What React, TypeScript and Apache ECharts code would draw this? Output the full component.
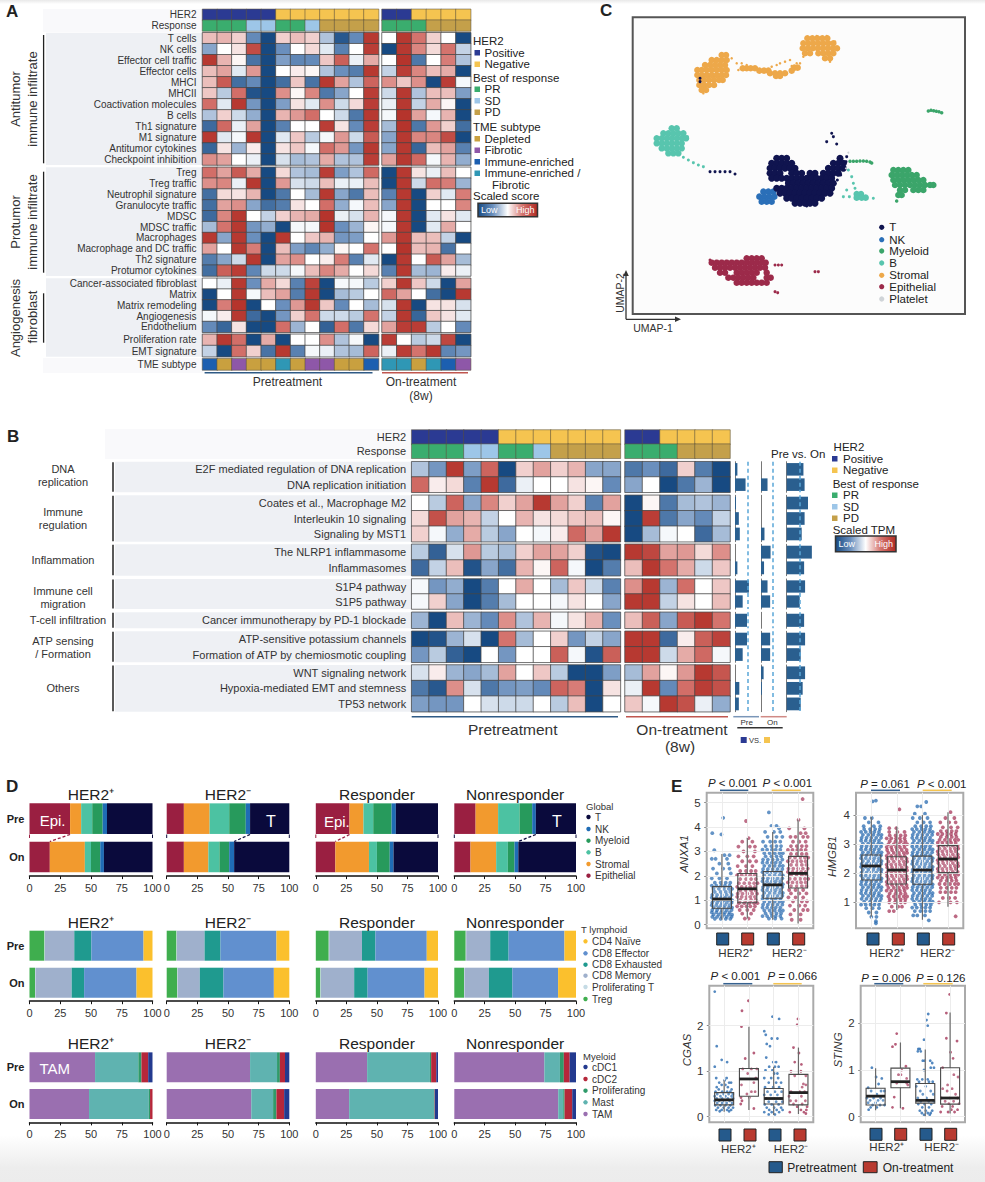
import React, { useEffect, useRef } from "react";
import * as echarts from "echarts";

const FONT = "Liberation Sans, Arial, sans-serif";
const NAVY = "#2b3a93", GOLD = "#f5c450", PRC = "#3aad6e", SDC = "#9dc6e8", PDC = "#c4a04a";
const DEP = "#c9a03f", FIB = "#8e57a8", IMM = "#1c5fb0", MIX = "#2f97b5";

// ---------- Panel A ----------
const annotRows = ["HER2", "Response"];
const annotA = [
  [0, 0, 0, 0, 0, 1, 1, 1, 1, 1, 1, 1, 0, 0, 1, 1, 1, 1],
  [2, 2, 2, 3, 3, 2, 2, 3, 4, 4, 4, 4, 2, 2, 2, 4, 4, 4],
];
const antitumorRows = ["T cells", "NK cells", "Effector cell traffic", "Effector cells", "MHCI", "MHCII", "Coactivation molecules", "B cells", "Th1 signature", "M1 signature", "Antitumor cytokines", "Checkpoint inhibition"];
const antitumorScores = [
  [0.7, 0.8, 0.5, -1.6, -3, 0.5, 0.7, 0.5, -0.8, -2.7, -1.6, 2.7, 0, 2.7, 1.5, 0.5, 0, -3],
  [-1.2, 0, 0.3, 2.3, -3, -1.5, 0, 0.4, -0.3, -1.8, 0, 2.6, -3, 2.7, 1.3, 0.4, 1.5, -0.6],
  [2.7, 0.8, 0.1, -2.1, -3, -1.3, -1.7, -1.6, 0.6, 1.9, -0.2, 0.9, 0, 2.8, -2, 0, 1.4, -0.8],
  [0.7, 1, -0.3, 1.1, -3, 0, 0.2, 0.1, -0.8, -1.5, -1.9, 2.7, -0.6, 2.6, 1.3, 0.7, 0.9, -3],
  [0.7, 2, -2.2, -1.6, -3, -2.2, 0.6, -2.1, 2.7, 1, -0.8, 1.8, 1.2, 0.6, 1.2, -3, 2.6, -0.1],
  [0.6, -0.7, 1.6, -2.8, -3, 1.2, 0.1, 1.3, -2, -1.2, 0, 2.6, -0.5, 2.7, -0.8, 0.7, 0.7, -1.3],
  [1.6, -0.3, 2.7, -1.4, -3, -1.3, 0.3, -0.3, 1.2, -0.5, 0.4, 2.6, -0.2, 2.7, -0.6, 0.9, 0.1, -3],
  [-0.8, 0.5, -0.5, -1.1, -3, 0.8, 1.1, 1.6, 0, -0.5, -2, 2.7, -0.1, 2.8, 1, -0.1, 0.8, -3],
  [-2.3, 1.7, -0.2, 1, -3, -1.8, 0, 0, 2.6, 0.3, -1.6, 2.6, -0.9, 2.8, -2, 1.1, 0.5, -2.2],
  [2.7, -0.3, -0.1, 2.7, -3, -0.3, 0.6, -0.7, -0.1, 1.1, -0.5, 2, -1.2, 2.7, 1.3, 1.3, 2.3, -3],
  [-2.4, 0.3, -1, 0.2, -3, 0.3, 0.6, -0.1, 1.6, 1.1, -1.4, 2.7, -1.2, 2.7, -2.4, 0.7, 1, -1.8],
  [1.2, 1, 0, -0.2, -3, -0.4, -0.9, -0.8, 0.9, -0.8, -0.8, 2.6, 1, 2.7, 1.7, -0.1, 0.8, -1.1],
];
const protumorRows = ["Treg", "Treg traffic", "Neutrophil signature", "Granulocyte traffic", "MDSC", "MDSC traffic", "Macrophages", "Macrophage and DC traffic", "Th2 signature", "Protumor cytokines"];
const protumorScores = [
  [1.6, 1, 2, 0.9, -3, 0.4, -0.8, -0.9, 2.6, -1.3, -0.8, 1.7, -3, 2.7, 0.3, -0.2, 0.7, 0],
  [1.2, 1.3, -0.2, 2.7, -3, 1.1, -0.4, -0.5, 0.7, -0.2, -0.2, 0.7, -3, 2.7, -0.5, 1.6, 1.4, -1],
  [-2.2, 0.4, 0.3, 0.8, -3, -2, 0, -0.9, 2.7, -1.2, -2, 0.7, -1.8, 2.7, -3, 0.5, -0.3, 1.4],
  [-2.2, 1, 1.2, -1.2, -2.2, -1.9, 0.3, 0, 1.6, -1.1, -0.1, 0.7, -1.2, 2.7, -3, 0, 0, 1.3],
  [-2.3, 1.3, 2.7, 0, -0.6, 0.5, 0.8, 0.9, 2.8, -0.2, -0.4, 0.8, -0.1, 2.7, -3, -0.3, 0.3, -0.3],
  [-0.9, 1.5, 2.7, -1.4, -1.1, -3, -0.1, -0.1, 2.8, -1.5, -1, 0.1, -0.1, 2.7, -3, -0.3, 0.9, 0],
  [2.7, -1.2, 2.7, -1.5, -3, 2.7, 0, 0.6, 0.8, -1.4, -1.3, 0, 1.1, 2.7, 0.7, 0.7, -0.6, -3],
  [1, 0, 2.7, 1.4, -3, 0.7, -1.3, -1.7, -1.1, 0.1, 0, 1.5, 0, 2.8, 0.7, 0.8, -2.1, 0],
  [-1.9, -1.2, -0.5, 2.7, -3, 1, 1.2, 0, 0.2, 1.4, -1.8, -0.3, -3, 2.7, 0, 2, 1, -0.9],
  [-2.2, 1.9, 2.6, -1.7, -0.5, -0.5, -0.1, 0.7, 1.3, 0.9, 0, 0.4, -1.8, 2.7, -0.9, -1, 0.2, -0.2],
];
const angioRows = ["Cancer-associated fibroblast", "Matrix", "Matrix remodeling", "Angiogenesis", "Endothelium"];
const angioScores = [
  [0, -0.2, 2.7, -1.5, 0.9, 0.4, -1.8, 2.5, -3, -0.1, -0.1, -0.7, 0.5, 2.7, 0.6, -0.5, -3, 1],
  [-3, 0, 2.7, -0.1, 0.7, 1, -1.9, 2.7, -3, -0.9, -0.7, 0, 1.7, 1, 0, -2.2, -3, 2.7],
  [-3, 1.4, 2.8, -3, 0, -1.5, 1.1, 2.7, 0.6, -1.6, 0, -0.9, -0.4, 2.7, -3, 0.3, 0.3, -0.4],
  [-0.1, 0.2, 2.7, -2.3, -3, -1.4, 0.5, 1.5, -0.5, -0.5, -0.7, 1.5, -0.6, 2.7, -2.4, 0.6, 0.3, -0.3],
  [-1.6, -2.4, 0.3, -3, -3, 1.6, -1, 0, -2.5, 1.6, -2, 0.4, 1, 2.6, 2.6, -0.7, 0, -1.6],
];
const prolifRows = ["Proliferation rate", "EMT signature"];
const prolifScores = [
  [0.8, 2.7, 1.6, -3, 0.9, -3, 0, 0, 1.2, -0.8, -0.1, -3, 2.6, 0, -0.7, -0.5, 2.4, -3],
  [-0.6, -3, 1.6, 0.5, -2.1, 2.7, -1.8, -0.1, -0.2, -0.8, -0.9, 1.8, -0.2, 2.6, 1.5, 2.7, -1.7, -1.4],
];
const tmeRow = ["TME subtype"];
const tmeValues = [[7, 5, 6, 5, 5, 8, 5, 6, 6, 5, 5, 7, 8, 8, 5, 8, 7, 6]];

// ---------- Panel B ----------
const annotB = annotA;
const bDna = ["E2F mediated regulation of DNA replication", "DNA replication initiation"];
const bDnaScores = [
  [-0.8, -1.4, 2.7, -1.3, 1.8, -3, 0.5, 1, 0.5, 0.8, -1.2, -1.2, -2, -1.5, -2.3, 0.5, -1.9, -3],
  [1.7, 0.2, 0.4, -1.8, 2.7, -2.3, -0.2, 0, 0, 0.3, 0.1, -1.6, -1.2, 0, -3, -2, -1, -3],
];
const bImmune = ["Coates et al., Macrophage M2", "Interleukin 10 signaling", "Signaling by MST1"];
const bImmuneScores = [
  [0, -0.7, 1.8, -1.2, 1.3, 0.5, 1, 2.7, 1, 0.5, -1.8, 1, -3, 0.1, -2, -0.9, -0.8, -1],
  [0.4, 2.2, 1, 0.8, -0.6, 0, 0.8, 0.3, 0.4, 0.6, 0.7, 0.1, -3, 2.6, -2, -1.2, -1.6, -0.6],
  [0.5, -0.1, -1.1, 0.9, -0.7, -1.2, 0, -0.1, 0.2, 1.7, 1, 2.7, -3, -0.9, -0.1, 0, -2.3, -0.9],
];
const bInflam = ["The NLRP1 inflammasome", "Inflammasomes"];
const bInflamScores = [
  [-0.7, -2.5, -0.4, 1.1, -0.7, -0.9, 0.5, 1, 1, 0.5, -2.8, -3, 2.7, 2.4, 1, 1.1, 0.4, 1.2],
  [-2.3, -0.6, 0.7, -2.8, -1.2, -2.2, 0.8, 0.1, 1.8, -0.1, -3, -1.9, 0.7, 2.7, 1.5, 0.9, -0.5, 0.6],
];
const bMigr = ["S1P4 pathway", "S1P5 pathway"];
const bMigrScores = [
  [-0.1, -1.4, -1.1, -3, -1.9, 0, 0.9, 0, -0.9, 0.6, -0.5, -1.8, 1.2, 2.7, -1, 1.6, 0, 0.6],
  [-0.1, 0.5, -1.2, -3, -1.9, -0.9, 0, 0, -0.1, 0.3, 0, -1.2, 2.7, 2.7, -0.6, 0.3, 0, 0.7],
];
const bTcell = ["Cancer immunotherapy by PD-1 blockade"];
const bTcellScores = [[-1, -3, 0.7, -1, -1.6, 1.2, -0.8, 0.8, -0.1, 0.3, 0.8, -1.5, 0.7, 1.9, -1.2, 2, 2.7, 1.5]];
const bAtp = ["ATP-sensitive potassium channels", "Formation of ATP by chemiosmotic coupling"];
const bAtpScores = [
  [-3, -2.8, -1, -0.4, -3, 1.5, -0.9, 0, 0.5, -1.4, -0.6, -1.2, 2.7, 2.7, -2.3, 0.2, 1.9, 2.5],
  [-1.4, -0.7, -2.5, -3, 0, -1.4, 0, 0, 1.9, -0.1, -2.8, 1.9, 2.7, 2.7, -0.5, 0.9, 1.7, -0.1],
];
const bOthers = ["WNT signaling network", "Hypoxia-mediated EMT and stemness", "TP53 network"];
const bOthersScores = [
  [-0.4, 0.2, -1, -1.2, -0.9, 1, 0, 0.6, -0.7, -3, -3, -1.3, -0.9, 1, 0.1, 1.1, 2.7, 2.1],
  [-2, -2.7, 1.2, -0.4, -2, -1.4, -1.3, -1.6, 1.8, 1.4, -3, 0.3, -0.2, 2.7, -1.6, 1.6, 2.6, 2.2],
  [-1.3, -1.4, -1.4, 0, -0.4, -0.5, -0.5, 0, -0.7, 0.7, -3, 0, 0.6, -0.1, 2.7, 2.2, -0.2, -1.1],
];
const barsPre = [0.25, 1.1, 0.1, 0.4, 0.5, 0, 0.25, 1.45, 0.8, 1.25, 1.25, 0.8, 0, 0.45, 0.4];
const barsOn = [0, 0.75, 0, 0, 0.4, 1.1, 0.35, 0.75, 1.05, 0, 1.05, 1.05, 0.3, 0.1, 0];
const barsPreOn = [1.73, 1.85, 2.2, 1.85, 1.55, 2.6, 1.8, 1.9, 1.35, 1.8, 1.9, 1.45, 1.9, 1.65, 1.45];
const cutoff = 1.3;

// ---------- Panel C: rows are [y, x, x, ...], in units of the frame ----------
const stromalCore = [[165, 365, 378], [180, 335, 350, 365, 380], [195, 315, 330, 345, 360, 375], [210, 292, 305, 320, 335, 350, 365, 380], [225, 292, 305, 320, 335, 350, 365, 378], [240, 298, 312, 327, 342, 357, 368], [255, 298, 312, 327, 342], [270, 305, 318], [115, 622, 637, 652, 667, 682], [130, 610, 625, 640, 655, 670, 685, 700], [145, 608, 623, 638, 653, 668, 683, 698, 711], [160, 615, 630, 655, 670, 685, 700], [175, 675, 690], [205, 428, 440, 452, 465], [212, 478, 492, 505, 575], [220, 510, 525, 540, 555], [228, 528, 540], [203, 583, 593]];
const stromalFringe = [[175, 395], [190, 410, 425], [195, 440], [210, 430, 415], [208, 470], [190, 540], [185, 555], [180, 570], [200, 515], [195, 530], [198, 575], [190, 590, 600], [170, 610], [280, 310], [108, 650, 680], [125, 705], [150, 712], [185, 690]];
const tCore = [[475, 530, 545, 560, 720], [490, 515, 530, 545, 560, 575, 700, 715, 730], [505, 510, 525, 540, 555, 570, 585, 685, 700, 715, 730], [520, 510, 525, 540, 575, 590, 605, 630, 645, 670, 685, 700, 715], [535, 515, 530, 545, 560, 575, 590, 605, 620, 635, 650, 665, 680, 695], [550, 565, 580, 595, 610, 625, 640, 655, 670, 685, 700], [565, 530, 545, 560, 575, 590, 605, 620, 635, 650, 665, 680, 695], [580, 540, 555, 570, 585, 600, 615, 630, 645, 660, 675, 690], [595, 560, 575, 590, 605, 620, 635, 650, 665], [610, 585, 600, 615, 630, 645]];
const tFringe = [[515, 330, 345, 360, 375, 390], [522, 405], [400, 695], [410, 700], [425, 680], [432, 710], [470, 740], [485, 738], [618, 620], [540, 712], [525, 722], [235, 300], [245, 300]];
const nkCore = [[575, 490, 505, 520], [590, 478, 493, 508, 523], [605, 485, 500, 515]];
const myeloidCore = [[510, 880, 895, 910, 925], [525, 875, 890, 905, 920, 935, 950], [540, 880, 895, 910, 925, 940, 955, 970], [555, 885, 900, 915, 930, 945, 960, 975, 990, 1000], [570, 900, 915, 940, 955, 970], [585, 895, 905]];
const myeloidFringe = [[603, 890], [484, 750, 760, 770], [483, 780, 790], [484, 800], [486, 810], [489, 815], [333, 985], [331, 993], [332, 1001], [334, 1009], [335, 1017], [338, 1025]];
const bCore = [[385, 215, 230], [400, 190, 205, 220, 235, 250], [415, 170, 185, 200, 215, 230, 245, 258], [430, 170, 185, 200, 215, 230, 245], [445, 185, 200, 215, 230, 245], [460, 205, 220, 235], [582, 770, 783], [593, 770, 785, 797]];
const bFringe = [[472, 250], [480, 265], [488, 280], [495, 295], [500, 310], [510, 745], [530, 755], [550, 760], [570, 740], [590, 730, 748], [595, 820], [565, 765], [410, 262]];
const epiCore = [[775, 440, 455, 470, 485], [788, 335, 350, 365, 380, 395, 410, 425, 440, 455, 470, 485, 497], [803, 345, 360, 375, 390, 405, 420, 435, 450, 465, 480, 495], [818, 360, 375, 410, 425, 440, 455, 470, 500], [833, 385, 400, 415, 430, 445, 460, 500, 512], [848, 410, 425, 440, 455, 470, 485, 500]];
const epiFringe = [[795, 525, 535, 545], [815, 655, 645], [878, 533], [875, 525], [780, 330]];
const plateletPoints = [[458, 745], [505, 738]];

// ---------- Panel D ----------
const columnTitles = ["HER2⁺", "HER2⁻", "Responder", "Nonresponder"];
const globalNames = ["Epithelial", "Stromal", "B", "Myeloid", "NK", "T"];
const globalColors = ["#9a1f41", "#f29a2e", "#4cc2a2", "#279a5c", "#1f6cb5", "#0a0a3c"];
const globalShares = [
  [[33, 9, 9, 8.5, 3.5, 37], [16.5, 28.5, 5, 7.5, 3, 39.5]],
  [[14, 21, 16, 13.5, 3.5, 32], [14, 20, 9, 8, 4, 45]],
  [[27.6, 11.4, 8, 15, 3.5, 34.5], [16, 27.5, 6.5, 10.5, 3.1, 36.4]],
  [[17.5, 18.5, 17.6, 10.4, 3, 33], [13.3, 21.1, 9.6, 5.5, 3.1, 47.4]],
];
const tNames = ["Treg", "Proliferating T", "CD8 Memory", "CD8 Exhausted", "CD8 Effector", "CD4 Naïve"];
const tColors = ["#3fae4e", "#c5dbe5", "#9fb0cc", "#1f9a8f", "#6190cf", "#fbc02d"];
const tShares = [
  [[12.2, 0.4, 23.8, 13.9, 42.4, 7.3], [4.5, 0.4, 29.4, 10.1, 42.6, 13]],
  [[8, 0.4, 22.5, 13, 45.6, 10.5], [8.6, 0.4, 18, 19.3, 41.1, 12.6]],
  [[10.6, 0.4, 26.8, 11, 42, 9.2], [3.8, 0.4, 27.2, 11, 46.6, 11]],
  [[9.4, 0.4, 19.7, 15.1, 45.9, 9.5], [8, 0.4, 20, 19.3, 37.6, 14.7]],
];
const myeloidNames = ["TAM", "Mast", "Proliferating", "cDC2", "cDC1"];
const myeloidColors = ["#9a6fb0", "#5fb3b0", "#2f9a6a", "#b5273a", "#233a8f"];
const myeloidShares = [
  [[53.3, 35.2, 2.5, 5.5, 3.5], [48.4, 48.6, 1, 2, 0]],
  [[68, 22, 2.3, 4.2, 3.5], [69, 17.8, 2.7, 6.3, 4.2]],
  [[42, 51.4, 1, 4.2, 1.4], [27.3, 69.6, 0.3, 0.3, 2.5]],
  [[74, 12.8, 3.2, 4.8, 5.2], [85.4, 4.1, 1.1, 6.3, 3.1]],
];

// ---------- Panel E: [low, Q1, median, Q3, high] per group; jitter rows are [y, ...x offsets] ----------
const anxa1Boxes = [[0.2, 0.67, 1.05, 1.56, 2.9], [0.25, 0.9, 1.47, 2.1, 3.55], [0.2, 1.08, 1.63, 2.18, 3.8], [0.05, 1.5, 2.1, 2.8, 4.3]];
const hmgb1Boxes = [[0.5, 1.77, 2.25, 2.63, 3.94], [0.74, 1.63, 2.11, 2.57, 3.6], [0.4, 1.62, 2.11, 2.59, 4], [0.85, 2.02, 2.49, 2.95, 4.1]];
const cgasBoxes = [[0.11, 0.26, 0.37, 0.53, 0.8], [0.15, 0.45, 0.83, 1.06, 1.98], [0.04, 0.28, 0.4, 0.62, 1.1], [0.06, 0.26, 0.53, 0.93, 1.52]];
const stingBoxes = [[0.14, 0.25, 0.44, 0.61, 1.04], [0.18, 0.62, 0.75, 1.04, 1.59], [0.01, 0.29, 0.35, 0.71, 1.44], [0.07, 0.27, 0.4, 1.05, 2.23]];

const wa = [-0.38, -0.19, 0, 0.19, 0.38];
const wb = [-0.33, -0.12, 0.08, 0.27, 0.4];
const wc = [-0.28, -0.05, 0.15, 0.33];
const wd = [-0.4, -0.22, -0.03, 0.12, 0.3];
const anxa1Jitter = [
  [[4.38, 0.05], [3.75, -0.38], [3.7, -0.02], [3.05, -0.3], [2.85, 0.1, 0.3], [2.7, -0.4, -0.25, 0.2], [2.5, -0.1, 0.25], [2.3, -0.35, 0.05, 0.3], [2.1, -0.2, 0.35], [1.9, -0.4, -0.1, 0.2], [1.72, ...wc], [1.6, ...wd], [1.47, ...wb], [1.34, ...wc], [1.22, ...wa], [1.11, ...wd], [1.0, ...wb], [0.9, ...wa], [0.8, ...wd], [0.7, ...wb], [0.6, ...wa], [0.5, ...wd], [0.41, ...wb], [0.32, ...wa], [0.24, ...wc]],
  [[4.25, -0.05], [3.55, 0.05], [3.4, -0.2, 0.2], [3.2, -0.35, 0.1, 0.3], [3, -0.15, 0.3], [2.8, -0.35, 0, 0.25], [2.6, -0.2, 0.1, 0.35], [2.4, -0.38, -0.05, 0.2], [2.2, ...wc], [2.03, ...wd], [1.87, ...wc], [1.7, ...wb], [1.55, ...wd], [1.4, ...wc], [1.27, ...wa], [1.14, ...wd], [1.01, ...wc], [0.88, ...wb], [0.75, ...wd], [0.6, -0.3, 0, 0.25], [0.45, -0.2, 0.15], [0.25, 0.05, -0.1]],
  [[4.6, -0.15], [4.05, -0.05, 0.15], [3.95, 0.25], [3.8, -0.3, 0.05, 0.3], [3.6, -0.2, 0.15, 0.38], [3.4, -0.38, -0.1, 0.1, 0.3], [3.22, ...wc], [3.07, ...wd], [2.93, ...wb], [2.8, ...wc], [2.67, ...wa], [2.54, ...wd], [2.41, ...wb], [2.28, ...wa], [2.15, ...wd], [2.02, ...wb], [1.9, ...wa], [1.78, ...wd], [1.66, ...wb], [1.54, ...wa], [1.42, ...wd], [1.3, ...wb], [1.18, ...wa], [1.06, ...wd], [0.94, ...wb], [0.82, ...wa], [0.7, ...wd], [0.58, ...wb], [0.46, ...wc], [0.35, ...wd], [0.25, -0.15, 0.1, 0.35]],
  [[5.15, 0.18], [4.3, 0.02], [3.95, -0.35, 0.25], [3.75, 0.1, 0.3], [3.6, -0.3, -0.1, 0.2, 0.38], [3.4, -0.2, 0.05, 0.3], [3.22, ...wc], [3.06, ...wd], [2.9, ...wc], [2.75, ...wb], [2.6, ...wd], [2.45, ...wc], [2.3, ...wa], [2.16, ...wd], [2.02, ...wc], [1.88, ...wb], [1.73, ...wd], [1.58, ...wc], [1.42, -0.35, -0.1, 0.2], [1.28, -0.28, 0.05, 0.33], [1.12, -0.38, -0.1, 0.2], [0.95, -0.2, 0.15, 0.35], [0.78, -0.32, 0.05, 0.28], [0.6, -0.15, 0.2, 0.38], [0.42, -0.3, 0.1], [0.2, -0.25, 0.1]],
];
const hmgb1Jitter = [
  [[4.5, 0.18], [4.47, 0.05], [3.9, -0.25, 0.02], [3.75, -0.1, 0.28], [3.62, -0.3, 0.1, 0.35], [3.52, ...wc], [3.42, ...wd], [3.32, ...wb], [3.22, ...wa], [3.12, ...wd], [3.02, ...wb], [2.92, ...wa], [2.82, ...wd], [2.72, ...wb], [2.62, ...wa], [2.52, ...wd], [2.42, ...wb], [2.32, ...wa], [2.22, ...wd], [2.12, ...wb], [2.02, ...wa], [1.92, ...wd], [1.82, ...wb], [1.72, ...wa], [1.62, ...wd], [1.52, ...wb], [1.42, ...wa], [1.32, ...wd], [1.22, ...wb], [1.12, ...wa], [1.02, ...wc], [0.92, ...wd], [0.8, -0.2, 0.05, 0.3], [0.65, -0.1, 0.2], [0.5, 0, 0.2], [0.35, 0.18], [0.28, 0.18]],
  [[4.2, 0.1], [3.55, -0.02, -0.3], [3.42, -0.3, 0.02, 0.3], [3.3, ...wc], [3.2, ...wd], [3.1, ...wc], [3, ...wb], [2.9, ...wd], [2.8, ...wa], [2.7, ...wb], [2.6, ...wd], [2.5, ...wa], [2.4, ...wb], [2.3, ...wd], [2.2, ...wa], [2.1, ...wb], [2, ...wd], [1.9, ...wa], [1.8, ...wb], [1.7, ...wd], [1.6, ...wa], [1.5, ...wb], [1.4, ...wd], [1.3, ...wc], [1.2, ...wb], [1.1, ...wc], [1, -0.3, -0.08, 0.15, 0.32], [0.85, -0.2, 0.05, 0.2], [0.7, -0.3, -0.12]],
  [[4.45, 0.15], [4.3, -0.2, -0.05], [4.05, 0.1, -0.3], [3.9, -0.38, -0.1, 0.2], [3.75, -0.2, 0.05, 0.3], [3.62, ...wc], [3.52, ...wd], [3.42, ...wb], [3.32, ...wa], [3.22, ...wd], [3.12, ...wb], [3.02, ...wa], [2.92, ...wd], [2.82, ...wb], [2.72, ...wa], [2.62, ...wd], [2.52, ...wb], [2.42, ...wa], [2.32, ...wd], [2.22, ...wb], [2.12, ...wa], [2.02, ...wd], [1.92, ...wb], [1.82, ...wa], [1.72, ...wd], [1.62, ...wb], [1.52, ...wa], [1.42, ...wd], [1.32, ...wb], [1.22, ...wa], [1.12, ...wd], [1.02, ...wb], [0.92, ...wc], [0.82, ...wd], [0.7, -0.3, -0.08, 0.12, 0.3], [0.55, -0.36, -0.2, 0.1], [0.38, 0.25]],
  [[4.1, 0.1], [3.9, -0.1, 0.25], [3.75, -0.3, 0.05, 0.3], [3.58, -0.2, 0.12, 0.38], [3.45, ...wc], [3.35, ...wd], [3.25, ...wc], [3.15, ...wb], [3.05, ...wd], [2.95, ...wa], [2.85, ...wb], [2.75, ...wd], [2.65, ...wa], [2.55, ...wb], [2.45, ...wd], [2.35, ...wa], [2.25, ...wb], [2.15, ...wd], [2.05, ...wa], [1.95, ...wb], [1.85, ...wd], [1.75, ...wc], [1.63, ...wb], [1.5, ...wc], [1.35, -0.3, -0.1, 0.12, 0.3], [1.15, -0.2, 0.05, 0.28], [1, -0.35, 0.1, 0.35], [0.52, 0.3]],
];
const cgasJitter = [
  [[2.75, -0.38], [1.55, -0.3], [1.25, -0.1], [1.2, 0.12], [1.1, -0.38], [0.85, -0.32, 0.1], [0.8, 0.02], [0.75, -0.2, 0.2, 0.28], [0.7, -0.1, 0.05], [0.65, -0.3, 0.15], [0.6, -0.22, 0.3], [0.55, -0.35, -0.08, 0.12, 0.25], [0.5, -0.28, -0.02, 0.18, 0.35], [0.45, -0.38, -0.15, 0.05, 0.3], [0.4, -0.3, -0.08, 0.15, 0.36], [0.35, -0.38, -0.2, 0, 0.22], [0.3, -0.28, -0.08, 0.1, 0.32], [0.25, -0.36, -0.15, 0.05, 0.25], [0.2, -0.25, -0.02, 0.18, 0.36], [0.15, -0.32, -0.1, 0.12, 0.28], [0.12, -0.18, 0.2]],
  [[2.55, -0.02], [2.33, -0.28], [1.98, -0.3], [1.4, 0.2], [1.28, -0.15], [1.05, -0.25, 0.1, 0.32], [0.95, -0.05], [0.85, 0.28], [0.75, 0.2], [0.7, -0.3], [0.55, 0.1, 0.25], [0.5, -0.08], [0.42, -0.32, 0.02], [0.35, -0.28], [0.28, -0.33], [0.18, 0.2]],
  [[2.2, -0.05], [2.15, 0.22], [1.88, -0.38], [1.8, -0.32], [1.72, -0.08, 0.15], [1.6, -0.28], [1.55, -0.15], [1.3, -0.3], [1.2, -0.02, 0.1], [1.1, -0.18, 0.05, 0.2], [1.02, -0.33, -0.05], [0.95, 0.02, 0.15], [0.85, -0.38, -0.1, 0.18], [0.75, -0.2, 0.1, 0.3], [0.65, -0.35, -0.02, 0.22], [0.55, -0.25, 0.05, 0.32], [0.48, -0.38, -0.12, 0.15], [0.4, -0.3, 0, 0.28], [0.33, -0.2, 0.1, 0.35], [0.27, -0.36, -0.08, 0.2], [0.2, -0.28, 0.02, 0.3], [0.15, -0.18, 0.12, 0.36], [0.1, -0.38, -0.08, 0.22], [0.05, -0.2, 0.05]],
  [[2.15, -0.02], [2.02, -0.05], [1.52, -0.2], [1.4, 0.02], [1.2, -0.15], [1.15, 0.12], [1, -0.3, 0.1], [0.9, -0.15, 0.3], [0.72, 0.2], [0.7, 0.3], [0.65, 0.15], [0.55, -0.3, 0.05, 0.25], [0.45, -0.38, 0.12], [0.35, -0.32, -0.1, 0.28], [0.28, -0.2, 0.15], [0.22, -0.05, 0.35], [0.15, 0.1, 0.32], [0.1, -0.35, 0.22], [0.07, 0.3]],
];
const stingJitter = [
  [[1.05, -0.15], [0.85, 0.02], [0.82, 0.25], [0.7, 0.12], [0.62, -0.3], [0.55, -0.18, 0.22, 0.35], [0.48, 0.05], [0.4, -0.35, -0.08, 0.2], [0.35, -0.22, 0.1, 0.3], [0.3, -0.3, 0], [0.25, -0.12, 0.18, 0.36], [0.2, -0.2, 0.05], [0.15, -0.28]],
  [[1.78, -0.15], [1.55, -0.2], [1.5, -0.32], [1.08, 0.22], [1, 0.05], [0.9, -0.08, 0.02], [0.82, 0.25], [0.72, -0.15, 0.25], [0.68, 0.3], [0.42, -0.25], [0.2, -0.32], [0.18, 0.1]],
  [[2.2, 0.12], [2.07, 0.05], [1.95, 0.1], [1.65, -0.05], [1.45, -0.22, -0.28], [1.4, -0.3, -0.18], [1.2, -0.1, -0.02, 0.2], [1.15, 0.28], [1.05, 0.35, 0.22], [1, -0.05], [0.8, -0.32, -0.12, 0.1], [0.75, -0.25, 0.15, 0.3], [0.65, -0.36, 0.02], [0.55, -0.2, 0.22], [0.48, -0.1, 0.32], [0.4, -0.3, 0.05], [0.33, -0.18, 0.14, 0.34], [0.27, -0.28, -0.03, 0.24], [0.2, -0.12, 0.15], [0.13, -0.22, 0.02, 0.28], [0.08, -0.14, 0.1, 0.22], [0.04, -0.05, 0.18]],
  [[2.62, -0.02], [2.22, -0.15], [1.68, -0.15], [1.62, 0.28], [1.38, 0.02], [1.25, 0.12], [1.05, -0.3], [0.9, 0.15], [0.85, 0.32], [0.68, -0.1], [0.6, -0.3, 0.08], [0.55, -0.12], [0.48, 0.22], [0.4, -0.35, 0, 0.3], [0.33, -0.2, 0.14], [0.28, 0.36, -0.05], [0.22, -0.32, 0.1], [0.15, 0.05, 0.3], [0.1, -0.38, -0.08, 0.18]],
];

// ---------- builders ----------
function buildOption() {
  const grids: any[] = [], xAxes: any[] = [], yAxes: any[] = [], series: any[] = [], G: any[] = [];
  const scoreIdx: number[] = [], annotIdx: number[] = [];

  const T = (x: number, y: number, text: string, o: any = {}) =>
    G.push({
      type: "text", x, y, rotation: o.rot || 0, z: o.z ?? 50, silent: true,
      style: {
        text, fill: o.color || "#333", fontSize: o.size || 11, fontFamily: FONT,
        fontWeight: o.weight || "normal", fontStyle: o.italic ? "italic" : "normal",
        textAlign: o.align || "left", align: o.align || "left",
        textVerticalAlign: "middle", verticalAlign: "middle", rich: o.rich,
      },
    });
  const R = (x: number, y: number, w: number, h: number, fill: any, o: any = {}) =>
    G.push({ type: "rect", shape: { x, y, width: w, height: h }, z: o.z ?? 0, silent: true, style: { fill, stroke: o.stroke, lineWidth: o.lw } });
  const L = (x1: number, y1: number, x2: number, y2: number, stroke: string, lw = 1, dash?: number[]) =>
    G.push({ type: "line", shape: { x1, y1, x2, y2 }, z: 40, silent: true, style: { stroke, lineWidth: lw, lineDash: dash } });

  const addGrid = (left: number, top: number, width: number, height: number, x: any, y: any, extra: any = {}) => {
    grids.push({ left, top, width, height, containLabel: false, ...extra });
    xAxes.push({ gridIndex: grids.length - 1, ...x });
    yAxes.push({ gridIndex: grids.length - 1, ...y });
    return grids.length - 1;
  };

  const heat = (left: number, top: number, width: number, height: number, rows: string[], values: number[][], isAnnot: boolean, labelSize: number, margin: number) => {
    const g = addGrid(left, top, width, height,
      { type: "category", show: false, data: values[0].map((_, i) => String(i)) },
      {
        type: "category", inverse: true, data: rows, axisLine: { show: false }, axisTick: { show: false },
        axisLabel: { show: labelSize > 0, interval: 0, fontSize: labelSize, fontFamily: FONT, color: "#333", margin },
      });
    series.push({
      type: "heatmap", xAxisIndex: g, yAxisIndex: g,
      data: values.flatMap((row, r) => row.map((v, c) => [c, r, v])),
      itemStyle: { borderColor: isAnnot ? "rgba(90,80,60,0.55)" : "rgba(70,70,70,0.75)", borderWidth: 1 },
      emphasis: { disabled: true }, z: 3,
    });
    (isAnnot ? annotIdx : scoreIdx).push(series.length - 1);
  };

  const heatPair = (c: any, top: number, bottom: number, rows: string[], vals: number[][], isAnnot = false) => {
    heat(c.l1, top, c.r1 - c.l1, bottom - top, rows, vals.map((r) => r.slice(0, 12)), isAnnot, c.size, c.margin);
    heat(c.l2, top, c.r2 - c.l2, bottom - top, rows, vals.map((r) => r.slice(12)), isAnnot, 0, 0);
  };

  // ---- page tint
  R(0, 0, 985, 4, new echarts.graphic.LinearGradient(0, 0, 0, 1, [{ offset: 0, color: "#e9e9e9" }, { offset: 1, color: "#ffffff" }]));
  R(0, 1135, 985, 47, new echarts.graphic.LinearGradient(0, 0, 0, 1, [{ offset: 0, color: "#ffffff" }, { offset: 0.7, color: "#ededed" }, { offset: 1, color: "#ececec" }]));

  // ---- panel letters
  T(6, 11, "A", { size: 17, weight: "bold", color: "#222" });
  T(7, 436, "B", { size: 17, weight: "bold", color: "#222" });
  T(600, 10, "C", { size: 17, weight: "bold", color: "#222" });
  T(6, 786, "D", { size: 17, weight: "bold", color: "#222" });
  T(671, 786, "E", { size: 17, weight: "bold", color: "#222" });

  // ---- Panel A
  const cA = { l1: 202.5, r1: 378.6, l2: 382, r2: 470.7, size: 10, margin: 6 };
  R(43, 9, 160, 23, "#f9f9fb");
  R(43, 358, 160, 15, "#f9f9fb");
  R(46, 32.7, 157, 132.3, "#eef0f4");
  R(46, 167.3, 157, 108.7, "#eef0f4");
  R(46, 278.3, 157, 78.4, "#eef0f4");
  heatPair(cA, 9.3, 31, annotRows, annotA, true);
  heatPair(cA, 32.7, 165, antitumorRows, antitumorScores);
  heatPair(cA, 167.3, 276, protumorRows, protumorScores);
  heatPair(cA, 278.3, 332.3, angioRows, angioScores);
  heatPair(cA, 334.3, 356.7, prolifRows, prolifScores);
  heatPair(cA, 358.7, 370, tmeRow, tmeValues, true);
  L(43.6, 35, 43.6, 163.3, "#222", 1.3);
  L(43.6, 171.7, 43.6, 272.7, "#222", 1.3);
  L(43.6, 293.3, 43.6, 342.7, "#222", 1.3);
  const rot = Math.PI / 2;
  T(15, 99, "Antitumor", { size: 13, rot, align: "center" });
  T(32, 99, "immune infiltrate", { size: 13, rot, align: "center" });
  T(15, 222, "Protumor", { size: 13, rot, align: "center" });
  T(32, 222, "immune infiltrate", { size: 13, rot, align: "center" });
  T(15, 318, "Angiogenesis", { size: 13, rot, align: "center" });
  T(32, 317, "fibroblast", { size: 13, rot, align: "center" });
  L(204.6, 372.7, 372.5, 372.7, "#2f5a85", 1.5);
  L(382, 372.7, 468, 372.7, "#c0564f", 1.5);
  T(287.5, 382, "Pretreatment", { size: 12, align: "center" });
  T(421, 382, "On-treatment", { size: 12, align: "center" });
  T(421, 396, "(8w)", { size: 12, align: "center" });
  const legendHead = (x: number, y: number, t: string, size = 11.5) => T(x, y, t, { size, color: "#222" });
  const legendItem = (x: number, y: number, col: string, t: string, tx = 10, size = 11.5) => {
    R(x, y - 2.5, 5.5, 5.5, col, { z: 5 });
    T(x + tx, y, t, { size, color: "#222" });
  };
  legendHead(473, 41, "HER2");
  legendItem(474.5, 52.5, NAVY, "Positive");
  legendItem(474.5, 64, GOLD, "Negative");
  legendHead(473, 77.5, "Best of response");
  legendItem(474.5, 89, PRC, "PR");
  legendItem(474.5, 100.5, SDC, "SD");
  legendItem(474.5, 112, PDC, "PD");
  legendHead(473, 127, "TME subtype");
  legendItem(474.5, 138.5, DEP, "Depleted");
  legendItem(474.5, 150, FIB, "Fibrotic");
  legendItem(474.5, 161.5, IMM, "Immune-enriched");
  legendItem(474.5, 173, MIX, "Immune-enriched /");
  T(492, 184.5, "Fibrotic", { size: 11.5, color: "#222" });
  legendHead(473, 196, "Scaled score");
  const bar = (x: number, y: number, w: number, h: number) => {
    R(x, y, w, h, new echarts.graphic.LinearGradient(0, 0, 1, 0, [
      { offset: 0, color: "#174a82" }, { offset: 0.25, color: "#6a8fbd" }, { offset: 0.5, color: "#ffffff" },
      { offset: 0.75, color: "#d4736d" }, { offset: 1, color: "#b02a22" }]), { z: 5, stroke: "#333", lw: 1.5 });
    T(x + 3, y + h / 2, "Low", { size: 9, color: "#fff" });
    T(x + w - 3, y + h / 2, "High", { size: 9, color: "#fff", align: "right" });
  };
  bar(478, 203.3, 59.5, 13.4);

  // ---- Panel B
  const cB = { l1: 411.7, r1: 620.4, l2: 625, r2: 730, size: 11, margin: 5.5 };
  R(105, 429, 307, 30, "#f9f9fb");
  heatPair(cB, 430, 458.3, annotRows, annotB, true);
  const blocksB: any[] = [
    [461.7, 492.3, bDna, bDnaScores, ["DNA", "replication"], [469, 482], 63],
    [495.3, 541.7, bImmune, bImmuneScores, ["Immune", "regulation"], [512, 525], 63],
    [544.3, 575.7, bInflam, bInflamScores, ["Inflammation"], [560], 63],
    [579, 609, bMigr, bMigrScores, ["Immune cell", "migration"], [591, 604], 63],
    [612.3, 628.3, bTcell, bTcellScores, ["T-cell infiltration"], [620], 68],
    [631.3, 662.3, bAtp, bAtpScores, ["ATP sensing", "/ Formation"], [641, 654], 63],
    [665, 711.7, bOthers, bOthersScores, ["Others"], [688], 63],
  ];
  let rowStart = 0;
  blocksB.forEach(([top, bottom, rows, scores, lab, ly, lx]) => {
    R(115, top, 297, bottom - top, "#eef0f4");
    heatPair(cB, top, bottom, rows, scores);
    L(113, top + 0.5, 113, bottom - 0.5, "#222", 1.5);
    lab.forEach((s: string, i: number) => T(lx, ly[i], s, { size: 11, align: "center" }));
    const barCols: [number, number, number, number[]][] = [
      [735, 24, 2.5, barsPre], [761, 21.75, 2.5, barsOn], [786.7, 30, 3.1, barsPreOn],
    ];
    barCols.forEach(([left, width, max, vals]) => {
      const g = addGrid(left, top, width, bottom - top,
        { type: "value", min: 0, max, show: false },
        {
          type: "category", inverse: true, data: rows,
          axisLine: { show: true, lineStyle: { color: "#777", width: 1 } }, axisTick: { show: false }, axisLabel: { show: false },
        });
      series.push({
        type: "bar", xAxisIndex: g, yAxisIndex: g, barWidth: "82%",
        data: vals.slice(rowStart, rowStart + rows.length),
        itemStyle: { color: "#2a5f8f" }, z: 3, emphasis: { disabled: true },
        markLine: {
          silent: true, symbol: "none", label: { show: false }, animation: false, z: 5,
          lineStyle: { color: "#5aa6d8", type: [4, 3], width: 1.5 },
          data: [{ xAxis: cutoff }],
        },
      });
    });
    rowStart += rows.length;
  });
  L(411.7, 716.7, 618, 716.7, "#2f5a85", 1.5);
  L(626, 716.7, 728, 716.7, "#c0564f", 1.5);
  T(512.7, 729, "Pretreatment", { size: 15.5, align: "center" });
  T(682, 729, "On-treatment", { size: 15.5, align: "center" });
  T(680, 746.7, "(8w)", { size: 15.5, align: "center" });
  L(733.3, 716.7, 759, 716.7, "#7a96b8", 1.5);
  L(760.7, 716.7, 786.7, 716.7, "#d08a85", 1.5);
  T(746.7, 722.5, "Pre", { size: 8, align: "center" });
  T(772.3, 722.5, "On", { size: 8, align: "center" });
  L(737.3, 727.7, 782.7, 727.7, "#333", 1.5);
  R(740.7, 737, 6, 6, NAVY, { z: 5 });
  T(755, 740, "VS.", { size: 7.5, align: "center" });
  R(764, 737, 6, 6, GOLD, { z: 5 });
  T(771, 454, "Pre vs. On", { size: 11.5, color: "#222" });
  legendHead(833.6, 447, "HER2");
  legendItem(832, 458.5, NAVY, "Positive", 11);
  legendItem(832, 470, GOLD, "Negative", 11);
  legendHead(832.7, 483.5, "Best of response");
  legendItem(832, 495, PRC, "PR", 11);
  legendItem(832, 506.5, SDC, "SD", 11);
  legendItem(832, 518, PDC, "PD", 11);
  legendHead(832.7, 530.3, "Scaled TPM");
  bar(835.5, 536, 60.5, 15.7);

  // ---- Panel C
  const gC = addGrid(632.7, 17.3, 332.3, 296.7,
    { type: "value", min: 98, max: 1095, show: false },
    { type: "value", min: 52, max: 942, inverse: true, show: false },
    { show: true, borderColor: "#555", borderWidth: 2, backgroundColor: "#fcfcfc", z: 1 });
  const umap = (rows: number[][], color: string, size: number) =>
    series.push({
      type: "scatter", xAxisIndex: gC, yAxisIndex: gC, symbolSize: size, itemStyle: { color, opacity: 1 }, z: 3, emphasis: { disabled: true },
      data: rows.flatMap(([y, ...xs]) => xs.map((x) => [x, y])),
    });
  umap(stromalCore, "#eda84a", 6.5);
  umap(stromalFringe, "#eda84a", 2.5);
  umap(bCore, "#58c5ae", 6.5);
  umap(bFringe, "#58c5ae", 3);
  umap(myeloidCore, "#3ba56a", 6.5);
  umap(myeloidFringe, "#3ba56a", 3.5);
  umap(nkCore, "#2a6fb8", 6.5);
  umap(tCore, "#10144f", 7);
  umap(tFringe, "#10144f", 3);
  umap(epiCore, "#9c2a4a", 6.5);
  umap(epiFringe, "#9c2a4a", 3);
  umap(plateletPoints, "#d0d4d8", 2);
  const cLegend: [string, string, number][] = [["T", "#10144f", 227.3], ["NK", "#2a6fb8", 239.7], ["Myeloid", "#3ba56a", 251], ["B", "#58c5ae", 263], ["Stromal", "#eda84a", 275.3], ["Epithelial", "#9c2a4a", 286.7], ["Platelet", "#d0d4d8", 299]];
  cLegend.forEach(([n, c, y]) => {
    G.push({ type: "circle", shape: { cx: 881.7, cy: y, r: 2.6 }, z: 30, silent: true, style: { fill: c } });
    T(889.3, y, n, { size: 11.5, color: "#222" });
  });
  L(626, 319.3, 679, 319.3, "#333", 1.3);
  L(626, 319.3, 626, 272, "#333", 1.3);
  G.push({ type: "polygon", shape: { points: [[681, 319.3], [675, 316.5], [675, 322]] }, z: 40, silent: true, style: { fill: "#333" } });
  G.push({ type: "polygon", shape: { points: [[626, 270], [623.2, 276], [628.8, 276]] }, z: 40, silent: true, style: { fill: "#333" } });
  T(653, 328, "UMAP-1", { size: 10.5, align: "center" });
  T(620, 293, "UMAP-2", { size: 10.5, align: "center", rot });

  // ---- Panel D
  const colsD = [[29.5, 123], [166.7, 122.6], [315.8, 122.2], [454.3, 121.7]];
  const stackRow = (shares: number[][][], names: string[], colors: string[], top: number, band: number, barW: number, id: string) => {
    shares.forEach((grp, c) => {
      const g = addGrid(colsD[c][0], top, colsD[c][1], band * 2,
        {
          type: "value", min: 0, max: 100, interval: 25, splitLine: { show: false },
          axisLine: { show: true, lineStyle: { color: "#111", width: 1.5 } },
          axisTick: { show: true, length: 3, lineStyle: { color: "#111" } },
          axisLabel: { fontSize: 11, fontFamily: FONT, color: "#333", margin: 6, hideOverlap: false, showMinLabel: true, showMaxLabel: true },
        },
        {
          type: "category", inverse: true, data: ["Pre", "On"], axisLine: { show: false }, axisTick: { show: false },
          axisLabel: { show: c === 0, fontSize: 11, fontWeight: "bold", fontFamily: FONT, color: "#222", margin: 5 },
        });
      names.forEach((n, s) => {
        series.push({
          type: "bar", name: n, stack: id + c, xAxisIndex: g, yAxisIndex: g, barWidth: barW,
          data: [grp[0][s], grp[1][s]], itemStyle: { color: colors[s] }, z: 3, emphasis: { disabled: true },
        });
      });
      T(colsD[c][0] + colsD[c][1] / 2, top - 5.2, columnTitles[c], { size: 15.5, align: "center", color: "#222" });
    });
  };
  stackRow(globalShares, globalNames, globalColors, 799.5, 38.3, 30.6, "g");
  stackRow(tShares, tNames, tColors, 927.2, 37, 30, "t");
  stackRow(myeloidShares, myeloidNames, myeloidColors, 1049, 36.7, 30, "m");
  const connector = (c: number, count: number, color: string) => {
    const [l, w] = colsD[c];
    const cum = (a: number[]) => a.slice(0, count).reduce((s, v) => s + v, 0);
    L(l + (cum(globalShares[c][0]) / 100) * w, 834.5, l + (cum(globalShares[c][1]) / 100) * w, 841.5, color, 1.3, [3, 2]);
    L(l, 834.5, l, 838, color, 1);
    L(l + w, 834.5, l + w, 838, "#0a0a3c", 1);
  };
  connector(0, 1, "#9a1f41");
  connector(1, 5, "#0a0a3c");
  connector(2, 1, "#9a1f41");
  connector(3, 5, "#0a0a3c");
  T(52.6, 820.7, "Epi.", { size: 15, color: "#fff", align: "center" });
  T(271, 821, "T", { size: 16, color: "#fff", align: "center" });
  T(336.8, 821, "Epi.", { size: 15, color: "#fff", align: "center" });
  T(557, 821, "T", { size: 16, color: "#fff", align: "center" });
  T(54.7, 1068, "TAM", { size: 15, color: "#fff", align: "center" });
  const dLegend = (x: number, dx: number, tx: number, head: string, hy: number, items: [string, string, number][]) => {
    T(x, hy, head, { size: 9.5 });
    items.forEach(([n, c, y]) => {
      G.push({ type: "circle", shape: { cx: dx, cy: y, r: 2.2 }, z: 30, silent: true, style: { fill: c } });
      T(tx, y, n, { size: 10 });
    });
  };
  dLegend(586, 588.5, 595, "Global", 806.7, [["T", "#0a0a3c", 817], ["NK", "#1f6cb5", 829], ["Myeloid", "#279a5c", 840.7], ["B", "#4cc2a2", 852.3], ["Stromal", "#f29a2e", 864], ["Epithelial", "#9a1f41", 875.7]]);
  dLegend(581, 585.5, 592, "T lymphoid", 929.3, [["CD4 Naïve", "#fbc02d", 941.3], ["CD8 Effector", "#6190cf", 953.3], ["CD8 Exhausted", "#1f9a8f", 964.7], ["CD8 Memory", "#9fb0cc", 975.7], ["Proliferating T", "#c5dbe5", 987], ["Treg", "#3fae4e", 999]]);
  dLegend(583, 585.5, 592, "Myeloid", 1056, [["cDC1", "#233a8f", 1067], ["cDC2", "#b5273a", 1079], ["Proliferating", "#2f9a6a", 1090.7], ["Mast", "#5fb3b0", 1102.3], ["TAM", "#9a6fb0", 1114]]);

  // ---- Panel E
  const BLUE = "#2a6bb0", RED = "#a5375a";
  const renderBox = (_: any, api: any) => {
    const x = api.value(0);
    const P = (v: number) => api.coord([x, v]);
    const [cx, yLow] = P(api.value(1));
    const yQ1 = P(api.value(2))[1], yMed = P(api.value(3))[1], yQ3 = P(api.value(4))[1], yHigh = P(api.value(5))[1];
    const hw = 9.5;
    const whisker = { stroke: "#6a6a6a", lineWidth: 1.2 };
    return {
      type: "group",
      children: [
        { type: "line", shape: { x1: cx, y1: yLow, x2: cx, y2: yQ1 }, style: whisker },
        { type: "line", shape: { x1: cx, y1: yQ3, x2: cx, y2: yHigh }, style: whisker },
        { type: "rect", shape: { x: cx - hw, y: yQ3, width: 2 * hw, height: yQ1 - yQ3 }, style: { fill: "rgba(255,255,255,0.12)", stroke: "#4a4a4a", lineWidth: 1.1 } },
        { type: "line", shape: { x1: cx - hw, y1: yMed, x2: cx + hw, y2: yMed }, style: { stroke: "#222", lineWidth: 2.8 } },
      ],
    };
  };
  const boxPlot = (p: any) => {
    const g = addGrid(p.l, p.t, p.r - p.l, p.b - p.t,
      { type: "value", min: 0.4, max: 4.6, show: false },
      {
        type: "value", min: p.min, max: p.max, splitLine: { show: false }, axisLine: { show: false },
        axisTick: { show: true, length: 2.5, lineStyle: { color: "#888" }, customValues: p.ticks },
        axisLabel: { fontSize: 11.5, fontFamily: FONT, color: "#333", margin: 6, customValues: p.ticks },
      },
      { show: true, borderColor: "#aaa", borderWidth: 2, backgroundColor: "#fff", z: 1 });
    series.push({
      type: "scatter", xAxisIndex: g, yAxisIndex: g, data: [], z: 2,
      markLine: {
        silent: true, symbol: "none", label: { show: false }, animation: false,
        lineStyle: { color: "#ececec", width: 1, type: "solid" },
        data: [...[1, 2, 3, 4].map((x) => ({ xAxis: x })), ...p.ticks.map((y: number) => ({ yAxis: y }))],
      },
    });
    p.jitter.forEach((rows: number[][], i: number) => {
      series.push({
        type: "scatter", xAxisIndex: g, yAxisIndex: g, symbolSize: p.size, z: 3, emphasis: { disabled: true },
        itemStyle: { color: i % 2 === 0 ? BLUE : RED, opacity: p.alpha },
        data: rows.flatMap(([y, ...off]) => off.map((o) => [i + 1 + o, y])),
      });
    });
    series.push({
      type: "custom", xAxisIndex: g, yAxisIndex: g, z: 5, renderItem: renderBox, silent: true,
      encode: { x: 0, y: [1, 2, 3, 4, 5] },
      data: p.boxes.map((b: number[], i: number) => [i + 1, ...b]),
    });
    T(p.nameX, (p.t + p.b) / 2 + (p.nameDy || 0), p.name, { size: 11.5, italic: true, rot, align: "center" });
    p.pv.forEach((v: any, i: number) => {
      T(v[0], p.pY, "{i|P} " + v[1], {
        size: 11.5, align: "center", color: "#222",
        rich: { i: { fontStyle: "italic", fontSize: 11.5, fontFamily: FONT, fill: "#222", color: "#222" } },
      });
      L(v[2], p.lineY, v[3], p.lineY, i === 0 ? "#35618f" : GOLD, 1.5);
    });
    p.sq.forEach((x: number, i: number) => R(x - 6, p.sqY - 6, 12, 12, i % 2 === 0 ? "#255a8c" : "#b83a30", { z: 20, stroke: "#222", lw: 1 }));
    T(p.lab[0], p.labY, "HER2⁺", { size: 11.5, align: "center" });
    T(p.lab[1], p.labY, "HER2⁻", { size: 11.5, align: "center" });
  };
  boxPlot({
    l: 706.7, r: 813.3, t: 792.7, b: 928.3, min: -0.15, max: 5.41, ticks: [0, 1, 2, 3, 4, 5], boxes: anxa1Boxes, jitter: anxa1Jitter, size: 3.8, alpha: 0.72,
    name: "ANXA1", nameX: 684, nameDy: -6.5, pY: 782.7, lineY: 790.3, pv: [[732.7, "< 0.001", 720, 748.3], [787.3, "< 0.001", 771.7, 800.7]],
    sq: [722.7, 747.7, 773.3, 798.7], sqY: 939, lab: [735.7, 789.3], labY: 953.3,
  });
  boxPlot({
    l: 856, r: 963.3, t: 792.7, b: 928.3, min: 0.107, max: 4.77, ticks: [1, 2, 3, 4], boxes: hmgb1Boxes, jitter: hmgb1Jitter, size: 3.8, alpha: 0.75,
    name: "HMGB1", nameX: 832.3, nameDy: -4, pY: 784.3, lineY: 790.3, pv: [[885, "= 0.061", 871, 900], [941.7, "< 0.001", 922.7, 951.7]],
    sq: [873, 898.3, 923.3, 948.7], sqY: 939, lab: [886.7, 937.7], labY: 953.3,
  });
  boxPlot({
    l: 709.3, r: 813.3, t: 985.7, b: 1122.3, min: -0.123, max: 2.88, ticks: [0, 1, 2], boxes: cgasBoxes, jitter: cgasJitter, size: 2.8, alpha: 0.8,
    name: "CGAS", nameX: 687.3, nameDy: -4, pY: 976, lineY: 983.7, pv: [[735.3, "< 0.001", 723.3, 752.3], [792.3, "= 0.066", 773.3, 801.7]],
    sq: [725, 750, 775, 800], sqY: 1135, lab: [738.3, 791], labY: 1149.3,
  });
  boxPlot({
    l: 860.7, r: 965, t: 985.7, b: 1122.3, min: -0.12, max: 2.806, ticks: [0, 1, 2], boxes: stingBoxes, jitter: stingJitter, size: 2.8, alpha: 0.8,
    name: "STING", nameX: 837.7, nameDy: -4, pY: 978.3, lineY: 983.7, pv: [[886, "= 0.006", 874.3, 903.3], [940.7, "= 0.126", 923.3, 952.7]],
    sq: [876, 900.7, 926, 950.7], sqY: 1134.3, lab: [886.7, 941.7], labY: 1147.3,
  });
  R(769, 1161.7, 13.3, 11, "#255a8c", { z: 20, stroke: "#222", lw: 1 });
  T(787.3, 1167.7, "Pretreatment", { size: 12, color: "#222" });
  R(863.3, 1161.7, 13.8, 11, "#b83a30", { z: 20, stroke: "#222", lw: 1 });
  T(882.7, 1167.7, "On-treatment", { size: 12, color: "#222" });

  const annotColors = [NAVY, GOLD, PRC, SDC, PDC, DEP, FIB, IMM, MIX];
  return {
    animation: false,
    backgroundColor: "#ffffff",
    textStyle: { fontFamily: FONT },
    grid: grids, xAxis: xAxes, yAxis: yAxes, series,
    visualMap: [
      {
        type: "continuous", show: false, min: -3, max: 3, dimension: 2, seriesIndex: scoreIdx,
        inRange: { color: ["#174a82", "#6a8fbd", "#ffffff", "#d4736d", "#b02a22"] },
      },
      {
        type: "piecewise", show: false, dimension: 2, seriesIndex: annotIdx,
        pieces: annotColors.map((color, value) => ({ value, color })),
      },
    ],
    graphic: { elements: G },
  };
}

export default function App() {
  const ref = useRef<HTMLDivElement>(null);
  useEffect(() => {
    const chart = echarts.init(ref.current!, null, { renderer: "svg" });
    chart.setOption(buildOption() as any);
    return () => chart.dispose();
  }, []);
  return <div ref={ref} style={{ position: "absolute", left: 0, top: 0, width: 985, height: 1182 }} />;
}
